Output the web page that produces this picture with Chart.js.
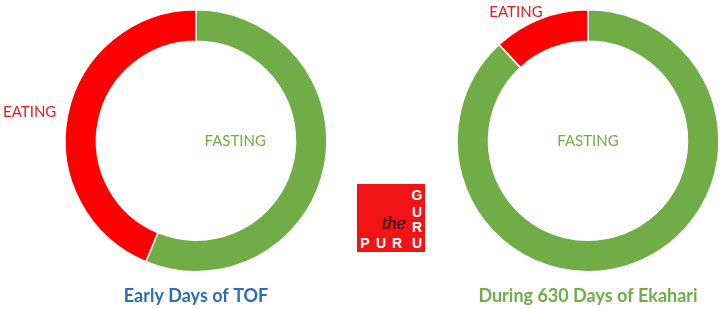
<!DOCTYPE html>
<html>
<head>
<meta charset="utf-8">
<script src="https://cdn.jsdelivr.net/npm/chart.js@4/dist/chart.umd.min.js"></script>
<style>
  body { margin: 0; background: #fff; width: 723px; height: 309px; overflow: hidden; position: relative; font-family: Lato, sans-serif; }
  .box { position: absolute; top: 0; height: 309px; }
  #leftBox { left: 0; width: 392px; }
  #rightBox { left: 453px; width: 270px; }
  #logo { position: absolute; left: 357px; top: 184px; width: 68px; height: 68px; background: #f21414; z-index: 5; }
  #logo span { position: absolute; color: #fff; font: bold 14px "Liberation Sans", sans-serif; width: 16px; text-align: center; line-height: 16px; }
  #logo .the { color: #2a0505; font: italic 16px "DejaVu Serif", serif; width: 24px; letter-spacing: -1px; }
</style>
</head>
<body>
<div class="box" id="leftBox"><canvas id="early"></canvas></div>
<div class="box" id="rightBox"><canvas id="ekahari"></canvas></div>
<div id="logo">
  <span style="left:52px;top:3px">G</span>
  <span style="left:52px;top:20px">U</span>
  <span style="left:52px;top:35px">R</span>
  <span style="left:0px;top:51px">P</span>
  <span style="left:16px;top:51px">U</span>
  <span style="left:32px;top:51px">R</span>
  <span style="left:52px;top:51px">U</span>
  <span class="the" style="left:24px;top:30px">the</span>
</div>
<script>
// hours of the day
var labels = ['FASTING', 'EATING'];
var earlyDays = [13.5, 10.5];
var ekahariDays = [21.15, 2.85];
var colors = ['#70AD47', '#FF0000'];
var labelColors = ['#70AD47', '#E0201E'];

// draws the slice names; pos is [dx, dy] in units of the outer radius
var sliceLabels = {
    id: 'sliceLabels',
    afterDatasetsDraw: function(chart, args, opts) {
        var arc = chart.getDatasetMeta(0).data[0];
        var ctx = chart.ctx;
        ctx.save();
        ctx.font = '15px Lato, sans-serif';
        ctx.textAlign = 'center';
        ctx.textBaseline = 'middle';
        labels.forEach(function(name, i) {
            var p = opts.pos[i];
            ctx.fillStyle = labelColors[i];
            ctx.fillText(name, arc.x + p[0] * arc.outerRadius, arc.y + p[1] * arc.outerRadius);
        });
        ctx.restore();
    }
};

function makeChart(id, values, title, titleColor, pos) {
    return new Chart(document.getElementById(id).getContext('2d'), {
        type: 'doughnut',
        data: {
            labels: labels,
            datasets: [{
                data: values,
                backgroundColor: colors,
                borderColor: '#ffffff',
                borderWidth: 1.5
            }]
        },
        options: {
            responsive: true,
            maintainAspectRatio: false,
            animation: false,
            cutout: '76%',
            layout: { padding: { top: 9 } },
            plugins: {
                legend: { display: false },
                tooltip: { enabled: false },
                title: {
                    display: true,
                    position: 'bottom',
                    text: title,
                    color: titleColor,
                    font: { family: 'Lato', size: 18, weight: 'bold' },
                    padding: { top: 13, bottom: 2 }
                },
                sliceLabels: { pos: pos }
            }
        },
        plugins: [sliceLabels]
    });
}

makeChart('early', earlyDays, 'Early Days of TOF', '#2E6DB4', [[0.30, 0], [-1.27, -0.22]]);
makeChart('ekahari', ekahariDays, 'During 630 Days of Ekahari', '#70AD47', [[0, 0], [-0.55, -0.985]]);
</script>
</body>
</html>
